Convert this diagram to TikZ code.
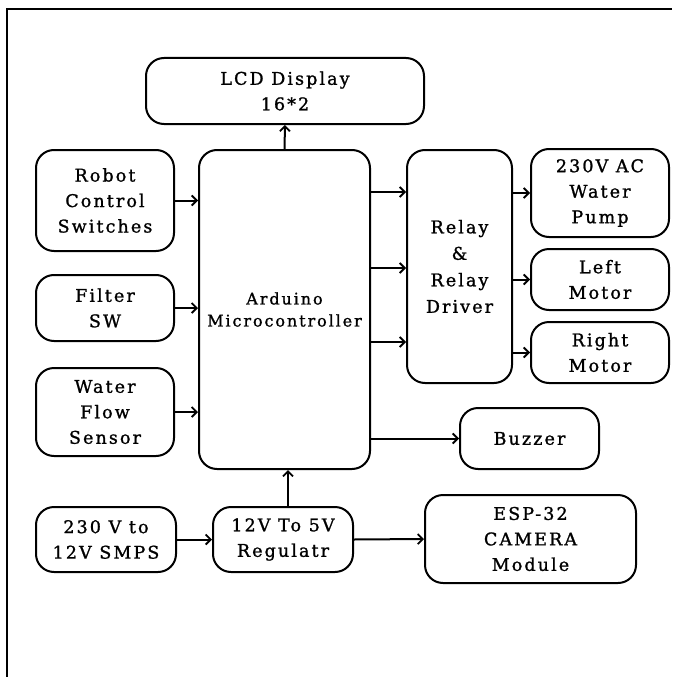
\documentclass[tikz,border=0pt]{standalone}
\usepackage{fontspec}
\setmainfont{DejaVu Serif}
\newfontfamily\boxfont[LetterSpace=12,FakeBold=1.2]{DejaVu Serif}
\usetikzlibrary{arrows.meta}
\begin{document}
\begin{tikzpicture}[x=1pt,y=-1pt,
  blk/.style={draw,line width=2pt,rounded corners=18pt,align=center,
    inner sep=0pt,font=\boxfont\fontsize{17.5}{25.5}\selectfont},
  arr/.style={line width=2pt,-{Straight Barb[length=5pt,width=10pt,line width=1.8pt]}}]
\useasboundingbox (0,0) rectangle (672,677);
\draw[line width=2pt] (7,677) -- (7,9) -- (672,9);
% nodes
\node[blk,minimum width=278pt,minimum height=66pt] (lcd) at (285,91) {LCD Display\\16*2};
\node[blk,minimum width=138pt,minimum height=101pt] (robot) at (105,200.5) {Robot\\Control\\Switches};
\node[blk,minimum width=138pt,minimum height=66pt] (filter) at (105,308) {Filter\\SW};
\node[blk,minimum width=138pt,minimum height=88pt] (water) at (105,412) {Water\\Flow\\Sensor};
\node[blk,minimum width=171pt,minimum height=319pt,font=\boxfont\fontsize{16}{22}\selectfont] (ard) at (284.5,309.5) {Arduino\\Microcontroller};
\node[blk,minimum width=105pt,minimum height=233pt,font=\boxfont\fontsize{17.5}{26.5}\selectfont] (relay) at (459.5,266.5) {Relay\\\&\\Relay\\Driver};
\node[blk,minimum width=138pt,minimum height=88pt] (pump) at (600,193) {230V AC\\Water\\Pump};
\node[blk,minimum width=138pt,minimum height=61pt] (left) at (600,279.5) {Left\\Motor};
\node[blk,minimum width=138pt,minimum height=61pt] (right) at (600,352.5) {Right\\Motor};
\node[blk,minimum width=139pt,minimum height=61pt] (buzzer) at (529.5,438.5) {Buzzer};
\node[blk,minimum width=140pt,minimum height=65pt] (smps) at (106,539.5) {230 V to\\12V SMPS};
\node[blk,minimum width=140pt,minimum height=65pt] (reg) at (283,539.5) {12V To 5V\\Regulatr};
\node[blk,minimum width=211pt,minimum height=88pt] (esp) at (530.5,539) {ESP-32\\CAMERA\\Module};
% connectors
\draw[arr] (ard.north) -- (lcd.south);
\draw[arr] (robot.east) -- (robot.east -| ard.west);
\draw[arr] (filter.east) -- (filter.east -| ard.west);
\draw[arr] (water.east) -- (water.east -| ard.west);
\draw[arr] (ard.east |- 0,192) -- (relay.west |- 0,192);
\draw[arr] (ard.east |- 0,268) -- (relay.west |- 0,268);
\draw[arr] (ard.east |- 0,342) -- (relay.west |- 0,342);
\draw[arr] (relay.east |- pump.west) -- (pump.west);
\draw[arr] (relay.east |- left.west) -- (left.west);
\draw[arr] (relay.east |- right.west) -- (right.west);
\draw[arr] (ard.east |- buzzer.west) -- (buzzer.west);
\draw[arr] (smps.east) -- (reg.west);
\draw[arr] (reg.north -| 288,0) -- (ard.south -| 288,0);
\draw[arr] (reg.east) -- (esp.west);
\end{tikzpicture}
\end{document}
